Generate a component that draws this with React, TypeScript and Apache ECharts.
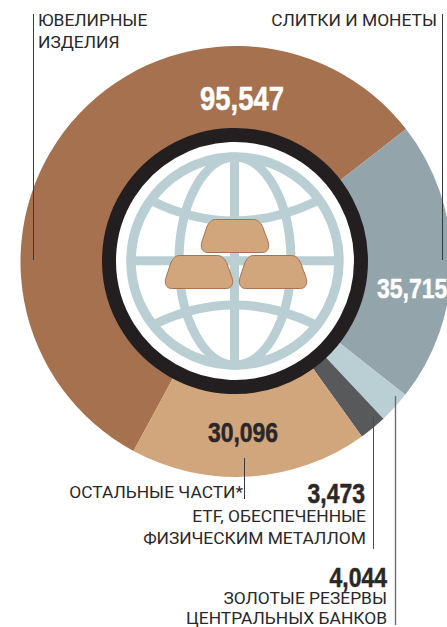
import React, { useEffect, useRef } from "react";
import * as echarts from "echarts";

const categories = ["ЮВЕЛИРНЫЕ ИЗДЕЛИЯ", "СЛИТКИ И МОНЕТЫ", "ЗОЛОТЫЕ РЕЗЕРВЫ ЦЕНТРАЛЬНЫХ БАНКОВ", "ETF, ОБЕСПЕЧЕННЫЕ ФИЗИЧЕСКИМ МЕТАЛЛОМ", "ОСТАЛЬНЫЕ ЧАСТИ*"];
const values = [95547, 35715, 4044, 3473, 30096];
const colors = ["#a5714f", "#94a4ab", "#b9cfd3", "#58595b", "#d1a67d"];

const fmt = (v: number) => String(v).replace(/(\d)(?=(\d{3})$)/, "$1,");
const INK = "#2b2728";
const LABEL_FONT = "Roboto, 'Liberation Sans', sans-serif";
const NUM_FONT = "'Liberation Sans', sans-serif";
const GLOBE = "#b9cfd3";
const CX = 235;
const CY = 261.5;

const BAR_PATH =
  "M14 0 L52 0 C56 0 59 3 61 7 L66.5 22 C68.5 28 66 33 61 33 L6 33 C1 33 -1.5 28 0.5 22 L5.5 7 C7.5 3 10 0 14 0 Z";
echarts.graphic.registerShape("goldbar", echarts.graphic.extendPath(BAR_PATH, {}));

const label = (text: string, x: number, y: number, align: string) => ({
  type: "text", z: 100, x, y,
  style: { text, fill: INK, font: `400 17.4px ${LABEL_FONT}`, align, verticalAlign: "middle" },
});
const num = (v: number, x: number, y: number, align: string, fill: string, size: number) => ({
  type: "text", z: 100, x, y, scaleX: 0.82,
  style: { text: fmt(v), fill, stroke: fill, lineWidth: 0.5, font: `700 ${size}px ${NUM_FONT}`, align, verticalAlign: "middle" },
});
const leader = (x: number, y1: number, y2: number, stroke: string, lineWidth = 1) => ({
  type: "line", z: 100,
  shape: { x1: x, y1, x2: x, y2 },
  style: { stroke, lineWidth },
});
const bar = (x: number, y: number) => ({
  type: "goldbar", z: 60, x, y,
  style: { fill: "#d1a67d", stroke: "#a8714f", lineWidth: 1 },
});
const globeStroke = { stroke: GLOBE, lineWidth: 9, fill: "none" };

export default function App() {
  const ref = useRef<HTMLDivElement>(null);
  useEffect(() => {
    document.body.style.margin = "0";
    const chart = echarts.init(ref.current!, undefined, { renderer: "svg" });
    chart.setOption({
      animation: false,
      backgroundColor: "#ffffff",
      series: [
        {
          type: "pie",
          center: [236, CY],
          radius: [125, 215.5],
          startAngle: 241.6,
          clockwise: true,
          silent: true,
          label: { show: false },
          labelLine: { show: false },
          itemStyle: { borderWidth: 0 },
          data: categories.map((name, i) => ({ name, value: values[i], itemStyle: { color: colors[i] } })),
        },
      ],
      graphic: {
        elements: [
          { type: "circle", z: 50, shape: { cx: CX, cy: CY - 0.5, r: 126 }, style: { fill: "#ffffff", stroke: "#231f20", lineWidth: 14 } },
          { type: "circle", z: 51, shape: { cx: CX, cy: CY - 0.5, r: 104 }, style: { fill: "none", stroke: GLOBE, lineWidth: 9.5 } },
          { type: "ellipse", z: 51, shape: { cx: CX, cy: CY - 0.5, rx: 56, ry: 104 }, style: globeStroke },
          { type: "line", z: 51, shape: { x1: CX - 0.5, y1: CY - 104, x2: CX - 0.5, y2: CY + 103 }, style: { stroke: GLOBE, lineWidth: 9 } },
          { type: "line", z: 51, shape: { x1: CX - 104, y1: 260.7, x2: CX + 104, y2: 260.7 }, style: { stroke: GLOBE, lineWidth: 9 } },
          { type: "bezierCurve", z: 51, shape: { x1: 152, y1: 201, cpx1: 234, cpy1: 241, x2: 317, y2: 201 }, style: globeStroke },
          { type: "bezierCurve", z: 51, shape: { x1: 153, y1: 325, cpx1: 234, cpy1: 285, x2: 316, y2: 325 }, style: globeStroke },
          bar(201.5, 219.5),
          bar(165.5, 255.5),
          bar(239.5, 255.5),
          leader(33.5, 14, 260, "#3a3a3a"),
          leader(442.5, 14, 260, "#3a3a3a"),
          leader(244.5, 458, 499, "#3a3a3a"),
          leader(373.5, 417, 549, "#4a4a4a"),
          leader(395.5, 396, 625, "#6e6e6e", 1.4),
          label("ЮВЕЛИРНЫЕ", 38, 20, "left"),
          label("ИЗДЕЛИЯ", 38, 42, "left"),
          label("СЛИТКИ И МОНЕТЫ", 437, 20, "right"),
          label("ОСТАЛЬНЫЕ ЧАСТИ*", 243, 492, "right"),
          label("ETF, ОБЕСПЕЧЕННЫЕ", 366, 516, "right"),
          label("ФИЗИЧЕСКИМ МЕТАЛЛОМ", 366, 538, "right"),
          label("ЗОЛОТЫЕ РЕЗЕРВЫ", 387, 597.5, "right"),
          label("ЦЕНТРАЛЬНЫХ БАНКОВ", 387, 618, "right"),
          num(values[0], 242, 98, "center", "#ffffff", 33.5),
          num(values[1], 377, 288, "left", "#ffffff", 28),
          num(values[4], 243, 432, "center", INK, 28),
          num(values[3], 365, 493, "right", INK, 28),
          num(values[2], 387, 577, "right", INK, 28),
        ],
      },
    });
    return () => chart.dispose();
  }, []);
  return <div ref={ref} style={{ width: 447, height: 627 }} />;
}
